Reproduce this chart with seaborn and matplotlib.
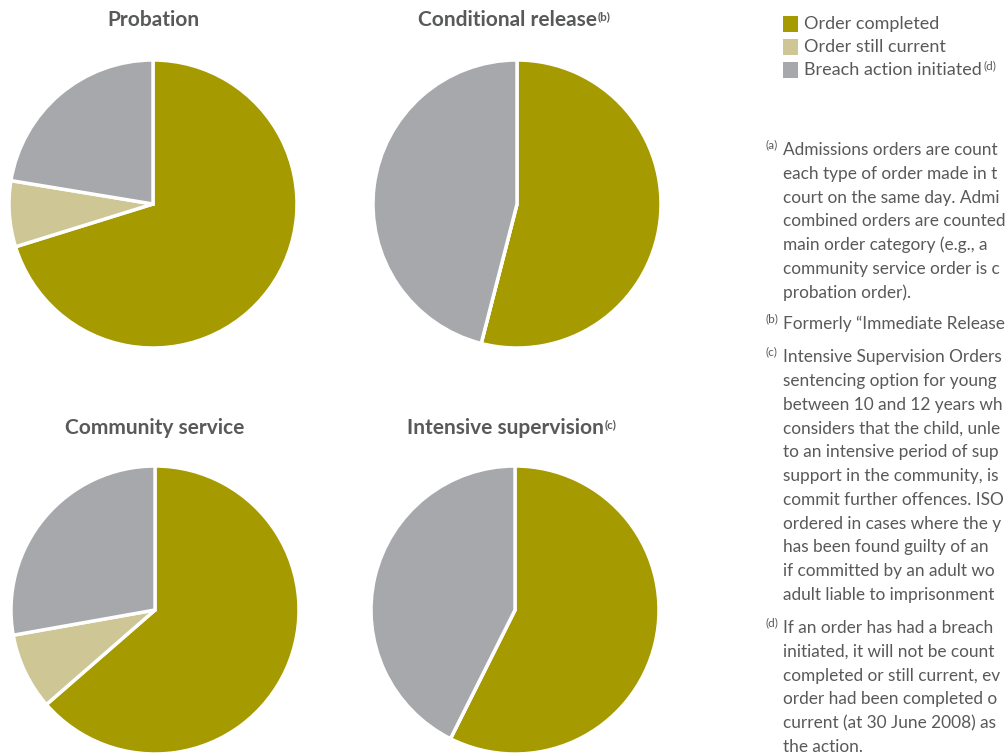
import matplotlib
matplotlib.use("Agg")
import matplotlib.pyplot as plt
import seaborn as sns

sns.set_theme(style="white")
plt.rcParams['font.family'] = ['Lato', 'DejaVu Sans']

# ---- data ----
categories = ["Order completed", "Order still current", "Breach action initiated"]
legend_sups = ["", "", "(d)"]
panel_titles = ["Probation", "Conditional release", "Community service", "Intensive supervision"]
title_sups = ["", "(b)", "", "(c)"]
probation = [70.2, 7.4, 22.4]
conditional_release = [54.0, 0.0, 46.0]
community_service = [63.6, 8.6, 27.8]
intensive_supervision = [57.4, 0.0, 42.6]
series = [probation, conditional_release, community_service, intensive_supervision]

colors = ["#A59A00", "#CEC795", "#A7A8AB"]
text_col = "#58595B"

W, H = 1006, 753
fig = plt.figure(figsize=(W / 100, H / 100), dpi=100)
fig.patch.set_facecolor("white")

centers = [(153, 204), (517, 204), (155, 610), (515, 610)]
R = 144
title_y = [20, 20, 428, 428]

for vals, (cx, cy), t, sup, ty in zip(series, centers, panel_titles, title_sups, title_y):
    ax = fig.add_axes([(cx - R) / W, 1 - (cy + R) / H, 2 * R / W, 2 * R / H])
    ax.pie(vals, colors=colors, startangle=90, counterclock=False,
           wedgeprops=dict(edgecolor="white", linewidth=2.5))
    ax.set_xlim(-1.0, 1.0)
    ax.set_ylim(-1.0, 1.0)
    ax.set_axis_off()
    xoff = -10 if sup else 0
    txt = fig.text((cx + xoff) / W, 1 - ty / H, t, ha="center", va="center",
                   fontsize=15, fontweight="bold", color=text_col)
    if sup:
        ax.annotate(sup, xy=(1, 1), xycoords=txt, xytext=(1, -1),
                    textcoords="offset points", ha="left", va="top",
                    fontsize=8.5, fontweight="bold", color=text_col,
                    annotation_clip=False)

# ---- legend ----
leg_y = [24, 47, 70]
for lab, sup, c, y in zip(categories, legend_sups, colors, leg_y):
    fig.patches.append(plt.Rectangle((783 / W, 1 - (y + 8) / H), 15 / W, 16 / H,
                                     transform=fig.transFigure, facecolor=c,
                                     edgecolor="none", figure=fig))
    tt = fig.text(804 / W, 1 - y / H, lab, ha="left", va="center",
                  fontsize=13, color=text_col)
    if sup:
        ax.annotate(sup, xy=(1, 1), xycoords=tt, xytext=(1, 1),
                    textcoords="offset points", ha="left", va="top",
                    fontsize=8.5, color=text_col, annotation_clip=False)

# ---- notes (as visible in the reference, which is cut at the right edge) ----
notes = [
    ("(a)", 150, ["Admissions orders are count",
                  "each type of order made in t",
                  "court on the same day. Admi",
                  "combined orders are counted",
                  "main order category (e.g., a",
                  "community service order is c",
                  "probation order)."]),
    ("(b)", 324, ["Formerly \u201cImmediate Release"]),
    ("(c)", 357, ["Intensive Supervision Orders",
                  "sentencing option for young",
                  "between 10 and 12 years wh",
                  "considers that the child, unle",
                  "to an intensive period of sup",
                  "support in the community, is",
                  "commit further offences. ISO",
                  "ordered in cases where the y",
                  "has been found guilty of an",
                  "if committed by an adult wo",
                  "adult liable to imprisonment"]),
    ("(d)", 628, ["If an order has had a breach",
                  "initiated, it will not be count",
                  "completed or still current, ev",
                  "order had been completed o",
                  "current (at 30 June 2008) as",
                  "the action."]),
]
spacing = 23.8
for mark, y0, lines in notes:
    fig.text(766 / W, 1 - (y0 - 5) / H, mark, ha="left", va="center",
             fontsize=8.5, color=text_col)
    for i, ln in enumerate(lines):
        fig.text(783 / W, 1 - (y0 + i * spacing) / H, ln, ha="left", va="center",
                 fontsize=12.4, color=text_col)

fig.savefig("out.png", dpi=100, facecolor="white")
